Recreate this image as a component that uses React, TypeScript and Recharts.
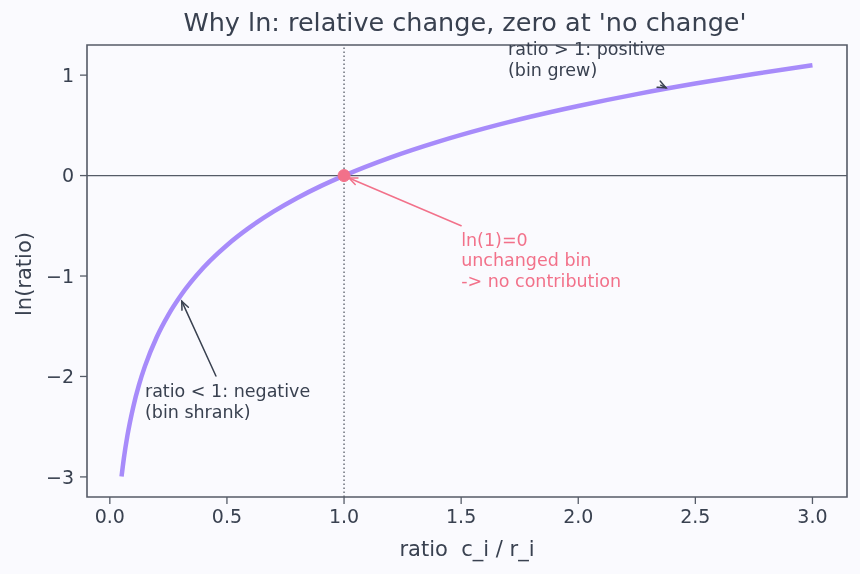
import React from "react";
import {
  LineChart,
  Line,
  XAxis,
  YAxis,
  ReferenceLine,
  ReferenceDot,
  ReferenceArea,
} from "recharts";

// ratio c_i / r_i and its natural log
const ratios = [
  0.05, 0.06, 0.075, 0.1, 0.125, 0.15, 0.2, 0.25, 0.3, 0.4, 0.5, 0.6, 0.7,
  0.8, 0.9, 1.0, 1.2, 1.4, 1.6, 1.8, 2.0, 2.25, 2.5, 2.75, 3.0,
];
const lnValues = [
  -2.996, -2.813, -2.59, -2.303, -2.079, -1.897, -1.609, -1.386, -1.204,
  -0.916, -0.693, -0.511, -0.357, -0.223, -0.105, 0, 0.182, 0.336, 0.47,
  0.588, 0.693, 0.811, 0.916, 1.012, 1.099,
];

const xTicks = [0, 0.5, 1, 1.5, 2, 2.5, 3];
const yTicks = [-3, -2, -1, 0, 1];

const data = ratios.map((r, i) => ({ ratio: r, ln: lnValues[i] }));

const FONT = "'DejaVu Sans', sans-serif";
const TEXT = "#394150";
const AXIS = "#555b67";
const PURPLE = "#a78bfa";
const PINK = "#f2718a";

// line with an open "->" head at (x2, y2)
function Arrow(props: any) {
  const { x1, y1, x2, y2, color } = props;
  const a = Math.atan2(y2 - y1, x2 - x1);
  const len = 9;
  const spread = 0.4;
  const h1x = x2 - len * Math.cos(a - spread);
  const h1y = y2 - len * Math.sin(a - spread);
  const h2x = x2 - len * Math.cos(a + spread);
  const h2y = y2 - len * Math.sin(a + spread);
  return (
    <g stroke={color} strokeWidth={1.5} fill="none" strokeLinecap="round">
      <line x1={x1} y1={y1} x2={x2} y2={y2} />
      <polyline points={`${h1x},${h1y} ${x2},${y2} ${h2x},${h2y}`} />
    </g>
  );
}

function Note({ cx, cy, lines, color }: any) {
  return (
    <text
      x={cx}
      y={cy}
      fill={color}
      fontSize={17.5}
      fontFamily={FONT}
      dominantBaseline="central"
    >
      {lines.map((l: string, i: number) => (
        <tspan key={i} x={cx} dy={i === 0 ? 0 : 20.5}>
          {l}
        </tspan>
      ))}
    </text>
  );
}

export default function App() {
  return (
    <div
      style={{
        position: "fixed",
        left: 0,
        top: 0,
        width: 860,
        height: 574,
        background: "#fafafe",
        fontFamily: FONT,
      }}
    >
      <div
        style={{
          position: "absolute",
          left: 0,
          width: 930,
          top: 6,
          textAlign: "center",
          fontSize: 25.5,
          color: TEXT,
          lineHeight: "32px",
        }}
      >
        Why ln: relative change, zero at 'no change'
      </div>
      <LineChart
        width={860}
        height={574}
        data={data}
        margin={{ top: 45, right: 13, bottom: 0, left: 0 }}
      >
        <XAxis
          dataKey="ratio"
          type="number"
          domain={[-0.0975, 3.1475]}
          allowDataOverflow
          ticks={xTicks}
          tickFormatter={(v: number) => v.toFixed(1)}
          height={77}
          tickSize={7}
          axisLine={false}
          tickLine={{ stroke: AXIS, strokeWidth: 1.3 }}
          tick={{ fill: TEXT, fontSize: 19, fontFamily: FONT, dy: 4 }}
          label={{
            content: (p: any) => {
              const { x, y, width } = p.viewBox;
              return (
                <text
                  x={x + width / 2}
                  y={y + 52}
                  textAnchor="middle"
                  dominantBaseline="central"
                  fill={TEXT}
                  fontSize={21}
                  fontFamily={FONT}
                  style={{ whiteSpace: "pre" }}
                >
                  {"ratio  c_i / r_i"}
                </text>
              );
            },
          }}
        />
        <YAxis
          type="number"
          domain={[-3.2, 1.3]}
          allowDataOverflow
          ticks={yTicks}
          tickFormatter={(v: number) => (v < 0 ? `\u2212${-v}` : `${v}`)}
          width={87}
          tickSize={7}
          axisLine={false}
          tickLine={{ stroke: AXIS, strokeWidth: 1.3 }}
          tick={{ fill: TEXT, fontSize: 19, fontFamily: FONT, dx: -4 }}
          label={{
            content: (p: any) => {
              const { x, y, height } = p.viewBox;
              const cx = x + 24;
              const cy = y + height / 2 + 3;
              return (
                <text
                  x={cx}
                  y={cy}
                  transform={`rotate(-90, ${cx}, ${cy})`}
                  textAnchor="middle"
                  dominantBaseline="central"
                  fill={TEXT}
                  fontSize={21}
                  fontFamily={FONT}
                >
                  ln(ratio)
                </text>
              );
            },
          }}
        />
        <ReferenceLine y={0} stroke={AXIS} strokeWidth={1.3} />
        <ReferenceLine
          x={1}
          stroke={AXIS}
          strokeWidth={1.3}
          strokeDasharray="1.5 2.5"
        />
        <Line
          dataKey="ln"
          type="monotone"
          stroke={PURPLE}
          strokeWidth={4.5}
          dot={false}
          isAnimationActive={false}
        />
        <ReferenceDot
          x={1}
          y={0}
          r={6}
          fill={PINK}
          stroke={PINK}
          strokeWidth={1}
        />
        <ReferenceLine
          segment={[
            { x: 1.5, y: -0.5 },
            { x: 1.021, y: -0.024 },
          ]}
          shape={(p: any) => <Arrow {...p} color={PINK} />}
        />
        <ReferenceLine
          segment={[
            { x: 0.453, y: -1.995 },
            { x: 0.307, y: -1.25 },
          ]}
          shape={(p: any) => <Arrow {...p} color={TEXT} />}
        />
        <ReferenceLine
          segment={[
            { x: 2.352, y: 0.9 },
            { x: 2.375, y: 0.874 },
          ]}
          shape={(p: any) => <Arrow {...p} color={TEXT} />}
        />
        <ReferenceDot
          x={1.5}
          y={-0.641}
          shape={(p: any) => (
            <Note
              cx={p.cx}
              cy={p.cy}
              color={PINK}
              lines={["ln(1)=0", "unchanged bin", "-> no contribution"]}
            />
          )}
        />
        <ReferenceDot
          x={0.15}
          y={-2.145}
          shape={(p: any) => (
            <Note
              cx={p.cx}
              cy={p.cy}
              color={TEXT}
              lines={["ratio < 1: negative", "(bin shrank)"]}
            />
          )}
        />
        <ReferenceDot
          x={1.7}
          y={1.26}
          shape={(p: any) => (
            <Note
              cx={p.cx}
              cy={p.cy}
              color={TEXT}
              lines={["ratio > 1: positive", "(bin grew)"]}
            />
          )}
        />
        <ReferenceArea
          x1={-0.0975}
          x2={3.1475}
          y1={-3.2}
          y2={1.3}
          fill="none"
          stroke={AXIS}
          strokeWidth={1.6}
          ifOverflow="visible"
        />
      </LineChart>
    </div>
  );
}
